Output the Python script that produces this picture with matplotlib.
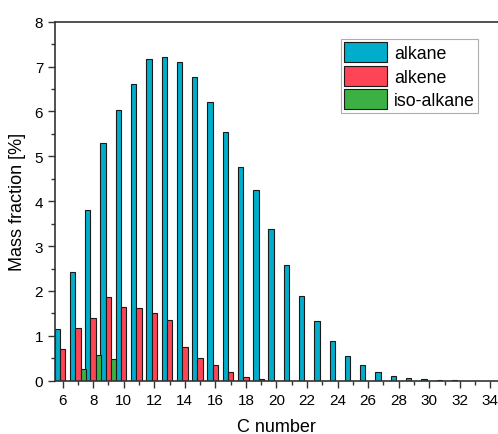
import numpy as np
import matplotlib
matplotlib.use("Agg")
import matplotlib.pyplot as plt
from matplotlib.ticker import MultipleLocator

plt.rcParams["font.family"] = ["Liberation Sans", "DejaVu Sans"]

# Carbon numbers and mass fractions [%] per hydrocarbon class
c_alkane = list(range(6, 33))
alkane = [1.15, 2.43, 3.80, 5.29, 6.03, 6.61, 7.17, 7.22, 7.10, 6.76, 6.20,
          5.55, 4.77, 4.25, 3.39, 2.58, 1.89, 1.32, 0.88, 0.56, 0.36, 0.19,
          0.10, 0.06, 0.03, 0.02, 0.01]
c_alkene = list(range(6, 20))
alkene = [0.70, 1.17, 1.40, 1.86, 1.64, 1.62, 1.51, 1.35, 0.76, 0.51, 0.35,
          0.20, 0.08, 0.04]
c_iso = [7, 8, 9]
iso_alkane = [0.25, 0.57, 0.49]

colors = {"alkane": "#00AECB", "alkene": "#FF4455", "iso-alkane": "#3BB143"}
width = 0.35

fig = plt.figure(figsize=(4.98, 4.35), dpi=100)
ax = fig.add_axes([0.1104, 0.1225, 0.8896, 0.8253])

ax.bar(np.array(c_alkane) - width, alkane, width=width, color=colors["alkane"],
       edgecolor="#1a1a1a", linewidth=0.8, label="alkane")
ax.bar(np.array(c_alkene), alkene, width=width, color=colors["alkene"],
       edgecolor="#1a1a1a", linewidth=0.8, label="alkene")
ax.bar(np.array(c_iso) + width, iso_alkane, width=width, color=colors["iso-alkane"],
       edgecolor="#1a1a1a", linewidth=0.8, label="iso-alkane")

ax.set_xlim(5.5, 34.5)
ax.set_ylim(0, 8)
ax.xaxis.set_major_locator(MultipleLocator(2))
ax.xaxis.set_minor_locator(MultipleLocator(1))
ax.yaxis.set_major_locator(MultipleLocator(1))
ax.yaxis.set_minor_locator(MultipleLocator(0.5))
ax.tick_params(which="major", direction="out", length=5, width=1.0,
               labelsize=11, color="#333333")
ax.tick_params(which="minor", direction="out", length=3, width=1.0,
               color="#333333")

for side in ("left", "bottom", "top"):
    ax.spines[side].set_linewidth(1.2)
    ax.spines[side].set_color("#333333")
ax.spines["right"].set_visible(False)

ax.set_xlabel("C number", fontsize=13, labelpad=8)
ax.set_ylabel("Mass fraction [%]", fontsize=13, labelpad=6)

leg = ax.legend(loc="upper left", bbox_to_anchor=(0.645, 0.953), fontsize=12.8,
                frameon=True, fancybox=False, edgecolor="#999999",
                handlelength=2.4, handleheight=1.35, handletextpad=0.4,
                labelspacing=0.2, borderpad=0.2, borderaxespad=0.0)
leg.get_frame().set_linewidth(0.8)

fig.savefig("out.png", dpi=100)
